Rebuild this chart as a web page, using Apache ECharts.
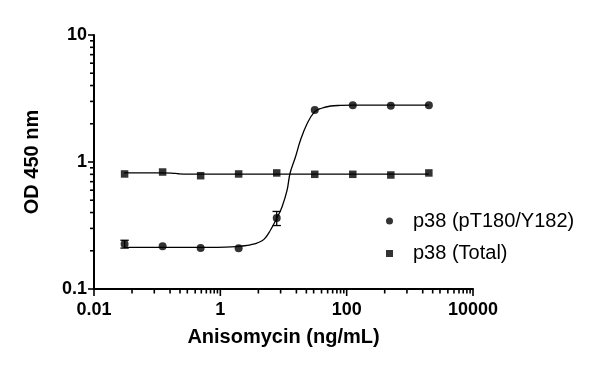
<!DOCTYPE html>
<html><head><meta charset="utf-8">
<script src="https://cdn.jsdelivr.net/npm/echarts@6/dist/echarts.min.js"></script>
<style>html,body{margin:0;padding:0;background:#fff}#c{width:600px;height:366px}</style>
</head><body><div id="c"></div>
<script>
// ---- data ----
const doses = [0.0305, 0.122, 0.488, 1.95, 7.81, 31.25, 125, 500, 2000];
const phosphoOD = [0.226, 0.217, 0.210, 0.209, 0.362, 2.57, 2.80, 2.77, 2.80];
const phosphoErr = [0.016, null, null, null, 0.046, null, null, null, null];
const totalOD = [0.805, 0.834, 0.780, 0.805, 0.820, 0.800, 0.800, 0.790, 0.820];
const phosphoFitX = [0.03, 0.1, 0.3, 0.7, 1.2, 1.8, 2.4, 3.0, 3.8, 4.9, 6.2, 7.9, 9.5, 11.4, 12.7, 15.5, 18.6, 23.8, 31, 40, 56, 80, 125, 300, 2000];
const phosphoFitY = [0.213, 0.213, 0.213, 0.213, 0.214, 0.216, 0.219, 0.223, 0.230, 0.246, 0.29, 0.364, 0.445, 0.60, 0.815, 1.10, 1.49, 2.02, 2.48, 2.65, 2.76, 2.79, 2.80, 2.80, 2.80];
const totalFitX = [0.03, 0.12, 0.17, 0.22, 0.3, 0.5, 2000];
const totalFitY = [0.822, 0.822, 0.818, 0.808, 0.803, 0.803, 0.803];
const xMajorTicks = [0.01, 1, 100, 10000];
const xMinorSteps = [4, 9, 16, 23, 30, 40, 50, 60, 70, 80, 90];
const yMajorTicks = [0.1, 1, 10];
const yMinorSteps = [2, 3, 4, 5, 6, 7, 8, 9];
const seriesNames = ['p38 (pT180/Y182)', 'p38 (Total)'];
const xTitle = 'Anisomycin (ng/mL)';
const yTitle = 'OD 450 nm';
const xMin = 0.01, xMax = 10000, yMin = 0.1, yMax = 10;

// ---- build ----
const FONT = '"Liberation Sans", Arial, Helvetica, sans-serif';
const zip = (a, b) => a.map((v, i) => [v, b[i]]);
const xTickData = [];
xMajorTicks.forEach((m, i) => {
  xTickData.push([m, yMin, 7]);
  if (i < xMajorTicks.length - 1) xMinorSteps.forEach(s => xTickData.push([m * s, yMin, 4.5]));
});
const yTickData = [];
yMajorTicks.forEach((m, i) => {
  yTickData.push([xMin, m, 6]);
  if (i < yMajorTicks.length - 1) yMinorSteps.forEach(s => yTickData.push([xMin, m * s, 4]));
});
const errData = [];
doses.forEach((d, i) => { if (phosphoErr[i] != null) errData.push([d, phosphoOD[i] - phosphoErr[i], phosphoOD[i] + phosphoErr[i]]); });
const fmt = v => String(+(+v).toPrecision(6));
const xLabelSet = xMajorTicks.map(fmt);

const chart = echarts.init(document.getElementById('c'), null, {renderer: 'canvas'});
chart.setOption({
  animation: false,
  backgroundColor: '#fff',
  grid: {left: 94, top: 35, width: 379, height: 254, containLabel: false},
  legend: {
    orient: 'vertical', left: 381, top: 206, itemWidth: 7, itemHeight: 7, itemGap: 12.5,
    data: [{name: seriesNames[0], icon: 'circle'}, {name: seriesNames[1], icon: 'rect'}],
    textStyle: {fontSize: 20, fontFamily: FONT, color: '#000', padding: [0, 0, 0, 15]},
    selectedMode: false
  },
  xAxis: {
    type: 'log', logBase: 10, min: xMin, max: xMax, splitNumber: 6,
    axisLine: {lineStyle: {color: '#000', width: 2}},
    axisTick: {show: false}, splitLine: {show: false},
    axisLabel: {margin: 12, color: '#000', fontSize: 18, fontWeight: 'bold', fontFamily: FONT,
      hideOverlap: false, showMinLabel: true, showMaxLabel: true,
      formatter: v => (xLabelSet.indexOf(fmt(v)) >= 0 ? fmt(v) : '')},
    name: xTitle, nameLocation: 'middle', nameGap: 38,
    nameTextStyle: {fontSize: 20, fontWeight: 'bold', fontFamily: FONT, color: '#000'}
  },
  yAxis: {
    type: 'log', logBase: 10, min: yMin, max: yMax, splitNumber: 2,
    axisLine: {lineStyle: {color: '#000', width: 2}},
    axisTick: {show: false}, splitLine: {show: false},
    axisLabel: {margin: 7, color: '#000', fontSize: 18, fontWeight: 'bold', fontFamily: FONT, formatter: fmt},
    name: yTitle, nameLocation: 'middle', nameGap: 52,
    nameTextStyle: {fontSize: 20, fontWeight: 'bold', fontFamily: FONT, color: '#000'}
  },
  series: [
    {type: 'custom', name: 'xticks', clip: false, silent: true, data: xTickData, z: 1,
      renderItem: (p, api) => { const c = api.coord([api.value(0), api.value(1)]);
        return {type: 'line', shape: {x1: c[0], y1: c[1], x2: c[0], y2: c[1] + api.value(2)}, style: {stroke: '#000', lineWidth: 1.6}}; }},
    {type: 'custom', name: 'yticks', clip: false, silent: true, data: yTickData, z: 1,
      renderItem: (p, api) => { const c = api.coord([api.value(0), api.value(1)]);
        return {type: 'line', shape: {x1: c[0], y1: c[1], x2: c[0] - api.value(2), y2: c[1]}, style: {stroke: '#000', lineWidth: 1.6}}; }},
    {type: 'line', name: 'fit1', data: zip(phosphoFitX, phosphoFitY), showSymbol: false, smooth: 0.4,
      lineStyle: {color: '#000', width: 1.3}, z: 2},
    {type: 'line', name: 'fit2', data: zip(totalFitX, totalFitY), showSymbol: false, smooth: 0.4,
      lineStyle: {color: '#000', width: 1.3}, z: 2},
    {type: 'custom', name: 'err', clip: false, silent: true, data: errData, z: 3,
      renderItem: (p, api) => { const lo = api.coord([api.value(0), api.value(1)]), hi = api.coord([api.value(0), api.value(2)]);
        const w = 4.2, x = lo[0];
        return {type: 'group', children: [
          {type: 'line', shape: {x1: x, y1: lo[1], x2: x, y2: hi[1]}, style: {stroke: '#000', lineWidth: 1.3}},
          {type: 'line', shape: {x1: x - w, y1: lo[1], x2: x + w, y2: lo[1]}, style: {stroke: '#000', lineWidth: 1.3}},
          {type: 'line', shape: {x1: x - w, y1: hi[1], x2: x + w, y2: hi[1]}, style: {stroke: '#000', lineWidth: 1.3}}]}; }},
    {type: 'scatter', name: seriesNames[0], data: zip(doses, phosphoOD), symbol: 'circle', symbolSize: 8,
      itemStyle: {color: '#000'}, z: 4},
    {type: 'scatter', name: seriesNames[1], data: zip(doses, totalOD), symbol: 'rect', symbolSize: 7.5,
      itemStyle: {color: '#000'}, z: 4}
  ]
});
</script></body></html>
